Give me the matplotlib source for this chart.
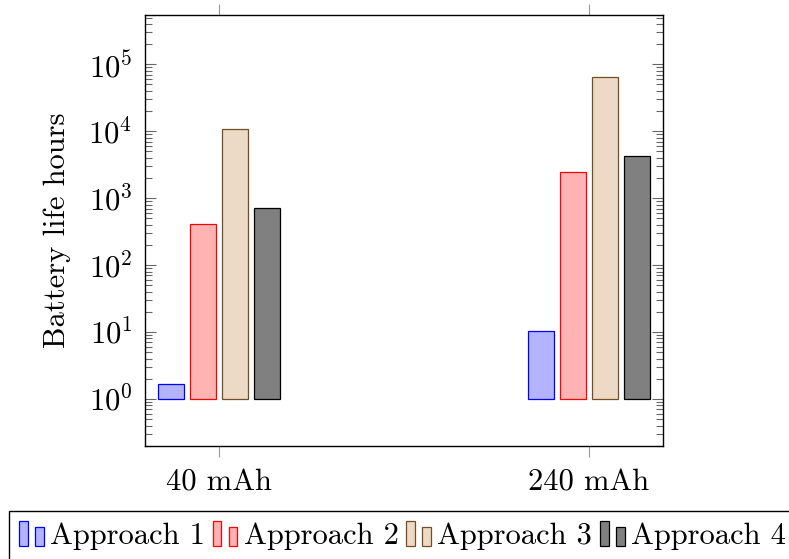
import numpy as np
import matplotlib
matplotlib.use("Agg")
import matplotlib.pyplot as plt
from matplotlib.patches import Rectangle
from matplotlib.legend_handler import HandlerBase
from matplotlib.ticker import LogLocator, NullFormatter

categories = ["40 mAh", "240 mAh"]
approaches = ["Approach 1", "Approach 2", "Approach 3", "Approach 4"]
approach1 = [1.67, 10.2]
approach2 = [410, 2450]
approach3 = [10700, 64700]
approach4 = [710, 4280]

plt.rcParams['font.family'] = 'cmr10'
plt.rcParams['mathtext.fontset'] = 'cm'
plt.rcParams['axes.formatter.use_mathtext'] = True

fills = ['#b3b3ff', '#ffb3b3', '#ecd9c6', '#808080']
edges = ['#0000ff', '#ff0000', '#734d26', '#000000']
fs = 22


class TwoBars(HandlerBase):
    # pgfplots style ybar legend: a tall and a short bar
    def create_artists(self, legend, orig_handle, xdescent, ydescent,
                       width, height, fontsize, trans):
        w = width * 0.35
        kw = dict(fc=orig_handle.get_facecolor(), ec=orig_handle.get_edgecolor(),
                  lw=orig_handle.get_linewidth(), transform=trans)
        r1 = Rectangle((-xdescent, -ydescent), w, height, **kw)
        r2 = Rectangle((-xdescent + width - w, -ydescent), w, height * 0.77, **kw)
        return [r1, r2]


fig = plt.figure(figsize=(7.89, 5.59), dpi=100)
ax = fig.add_axes([145 / 789, 1 - 445.7 / 559, 518 / 789, 430.4 / 559])

x = np.arange(len(categories))
bw = 0.07
step = 0.0865
series = [approach1, approach2, approach3, approach4]
handles = []
for i, vals in enumerate(series):
    vals = np.array(vals)
    bars = ax.bar(x + (i - 1.5) * step, vals - 1, bottom=1, width=bw,
                  color=fills[i], edgecolor=edges[i], linewidth=0.9)
    handles.append(bars.patches[0])

ax.set_yscale('log')
ax.set_ylim(0.2, 5.4e5)
ax.set_xlim(-0.2, 1.2)
ax.set_xticks(x)
ax.set_xticklabels(categories, fontsize=fs)
ax.yaxis.set_major_locator(LogLocator(base=10, numticks=20))
ax.yaxis.set_minor_locator(LogLocator(base=10, subs=np.arange(2, 10), numticks=20))
ax.yaxis.set_minor_formatter(NullFormatter())

ax.tick_params(axis='y', which='major', direction='in', left=True, right=True,
               length=8, width=0.8, color='#666666', labelsize=fs, pad=9)
ax.tick_params(axis='y', which='minor', direction='in', left=True, right=True,
               length=5, width=0.8, color='#666666')
ax.tick_params(axis='x', which='major', direction='out', top=True, bottom=True,
               length=8, width=0.8, color='#999999', pad=9)
for s in ax.spines.values():
    s.set_linewidth(1.0)

ax.set_ylabel('Battery life hours', fontsize=fs)
ax.yaxis.set_label_coords(-0.142, 0.5)

leg = fig.legend(handles, approaches, handler_map={Rectangle: TwoBars()},
                 loc='upper left', bbox_to_anchor=(9 / 789, 1 - 511 / 559),
                 ncol=4, fontsize=fs, frameon=True, fancybox=False,
                 edgecolor='black', framealpha=1, borderpad=0.33,
                 handlelength=0.8, handleheight=0.9, handletextpad=0.21,
                 columnspacing=0.26, borderaxespad=0)
leg.get_frame().set_linewidth(1.0)

fig.savefig('out.png', dpi=100)
